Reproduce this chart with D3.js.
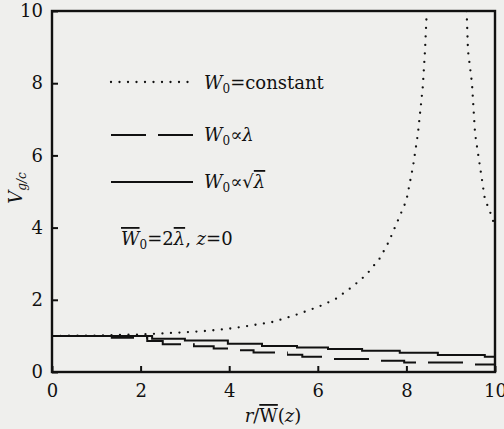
<!DOCTYPE html>
<html>
<head>
<meta charset="utf-8">
<style>
  body { margin: 0; background: #efefed; }
  svg text { font-family: "DejaVu Serif", serif; fill: #111; }
  .it { font-style: italic; }
  .ov { text-decoration: overline; }
</style>
<script src="https://d3js.org/d3.v7.min.js"></script>
</head>
<body>
<svg width="504" height="429"></svg>
<script>
// tick labels
var xTicks = [0, 2, 4, 6, 8, 10];
var yTicks = [0, 2, 4, 6, 8, 10];

// W0 = constant (dotted), two branches around the divergence
var rConstA = [0, 1, 2, 2.5, 3, 3.5, 4, 4.5, 5, 5.5, 6, 6.4, 6.8, 7.1, 7.4, 7.6, 8.0, 8.15, 8.26, 8.37, 8.42, 8.46];
var vConstA = [1.0, 1.01, 1.04, 1.07, 1.1, 1.14, 1.2, 1.29, 1.39, 1.58, 1.8, 2.02, 2.38, 2.7, 3.15, 3.6, 4.75, 5.7, 6.6, 7.9, 8.9, 10];
var rConstB = [9.36, 9.39, 9.48, 9.55, 9.66, 9.77, 9.93, 10];
var vConstB = [10, 8.9, 8.0, 6.6, 5.7, 4.8, 4.3, 4.0];

// W0 ∝ λ (dashed)
var rLin = [0, 1.35, 2.15, 2.5, 3.2, 3.65, 4.2, 4.55, 5.3, 5.65, 6.3, 7.4, 7.95, 9.4, 10];
var vLin = [1.0, 0.95, 0.86, 0.77, 0.71, 0.65, 0.6, 0.54, 0.48, 0.42, 0.36, 0.31, 0.26, 0.21, 0.21];

// W0 ∝ sqrt(λ) (solid)
var rSqrt = [0, 2.26, 3.0, 3.97, 4.74, 5.53, 6.23, 7.0, 7.85, 8.71, 9.77, 10];
var vSqrt = [1.0, 0.92, 0.87, 0.78, 0.72, 0.68, 0.64, 0.59, 0.53, 0.47, 0.42, 0.42];

var svg = d3.select("svg");
var x = d3.scaleLinear().domain([0, 10]).range([52, 495]);
var y = d3.scaleLinear().domain([0, 10]).range([372, 11]);

var defs = svg.append("defs");
defs.append("clipPath").attr("id", "plotclip")
  .append("rect").attr("x", x(0)).attr("y", y(10)).attr("width", x(10) - x(0)).attr("height", y(0) - y(10));

// dashes cut as vertical bands so the step risers don't shift the pattern
var dashClip = defs.append("clipPath").attr("id", "dashclip");
for (var i = 0; i * 47 < x(10) - x(0); i++) {
  dashClip.append("rect")
    .attr("x", x(0) + i * 47).attr("y", y(10))
    .attr("width", 35).attr("height", y(0) - y(10));
}

var zip = function (a, b) { return a.map(function (d, i) { return [d, b[i]]; }); };
var line = d3.line().x(function (d) { return x(d[0]); }).y(function (d) { return y(d[1]); });
var stepLine = d3.line().curve(d3.curveStepAfter).x(function (d) { return x(d[0]); }).y(function (d) { return y(d[1]); });

var g = svg.append("g").attr("clip-path", "url(#plotclip)");

[zip(rConstA, vConstA), zip(rConstB, vConstB)].forEach(function (pts) {
  g.append("path").attr("d", line(pts))
    .attr("fill", "none").attr("stroke", "#111").attr("stroke-width", 2.3)
    .attr("stroke-linecap", "round").attr("stroke-dasharray", "0,8.5");
});

g.append("path").attr("d", stepLine(zip(rLin, vLin)))
  .attr("clip-path", "url(#dashclip)")
  .attr("fill", "none").attr("stroke", "#111").attr("stroke-width", 2);

g.append("path").attr("d", stepLine(zip(rSqrt, vSqrt)))
  .attr("fill", "none").attr("stroke", "#111").attr("stroke-width", 2);

// axes (inward ticks)
var ax = svg.append("g").attr("transform", "translate(0," + y(0) + ")")
  .call(d3.axisBottom(x).tickValues(xTicks).tickSizeInner(-6).tickSizeOuter(0).tickPadding(12));
var ay = svg.append("g").attr("transform", "translate(" + x(0) + ",0)")
  .call(d3.axisLeft(y).tickValues(yTicks).tickSizeInner(-6).tickSizeOuter(0).tickPadding(9));
[ax, ay].forEach(function (a) {
  a.select(".domain").remove();
  a.attr("font-family", null).attr("font-size", 18);
  a.selectAll("line").attr("stroke", "#111").attr("stroke-width", 2);
  a.selectAll("text").attr("fill", "#111");
});

// frame
svg.append("rect")
  .attr("x", x(0)).attr("y", y(10)).attr("width", x(10) - x(0)).attr("height", y(0) - y(10))
  .attr("fill", "none").attr("stroke", "#111").attr("stroke-width", 2.4);

// legend
var legend = [
  { y: 82, dash: "0,8.5", cap: "round", w: 2.3 },
  { y: 135, dash: "35,12", cap: "butt", w: 2 },
  { y: 182, dash: null, cap: "butt", w: 2 }
];
legend.forEach(function (d) {
  svg.append("line").attr("x1", 111).attr("x2", 193).attr("y1", d.y).attr("y2", d.y)
    .attr("stroke", "#111").attr("stroke-width", d.w)
    .attr("stroke-linecap", d.cap).attr("stroke-dasharray", d.dash);
});

function W0(t) {
  t.append("tspan").attr("class", "it").text("W");
  t.append("tspan").attr("font-size", 12).attr("dy", 4).text("0");
}
var t1 = svg.append("text").attr("x", 204).attr("y", 89).attr("font-size", 18);
W0(t1); t1.append("tspan").attr("dy", -4).text("=constant");

var t2 = svg.append("text").attr("x", 204).attr("y", 141).attr("font-size", 18);
W0(t2); t2.append("tspan").attr("dy", -4).text("\u221D");
t2.append("tspan").attr("class", "it").text("\u03BB");

var t3 = svg.append("text").attr("x", 204).attr("y", 188).attr("font-size", 18);
W0(t3); t3.append("tspan").attr("dy", -4).text("\u221D\u221A");
t3.append("tspan").attr("class", "it ov").text("\u03BB");

var t4 = svg.append("text").attr("x", 121).attr("y", 245).attr("font-size", 18);
t4.append("tspan").attr("class", "it ov").text("W");
t4.append("tspan").attr("font-size", 12).attr("dy", 4).text("0");
t4.append("tspan").attr("dy", -4).text("=2");
t4.append("tspan").attr("class", "it ov").text("\u03BB");
t4.append("tspan").text(", ");
t4.append("tspan").attr("class", "it").text("z");
t4.append("tspan").text("=0");

// axis titles
var xt = svg.append("text").attr("x", 273).attr("y", 422).attr("text-anchor", "middle").attr("font-size", 18);
xt.append("tspan").attr("class", "it").text("r");
xt.append("tspan").text("/");
xt.append("tspan").attr("class", "ov").text("W");
xt.append("tspan").text("(");
xt.append("tspan").attr("class", "it").text("z");
xt.append("tspan").text(")");

var yt = svg.append("text").attr("transform", "translate(22,188) rotate(-90)")
  .attr("text-anchor", "middle").attr("font-size", 18);
yt.append("tspan").attr("class", "it").text("V");
yt.append("tspan").attr("class", "it").attr("font-size", 12).attr("dy", 4).text("g/c");
</script>
</body>
</html>
